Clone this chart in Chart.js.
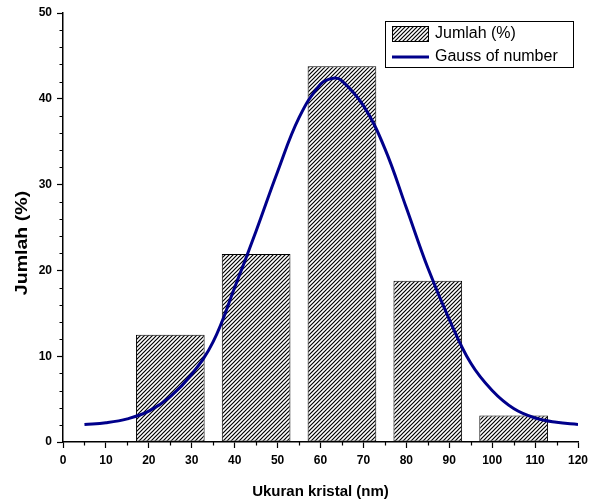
<!DOCTYPE html>
<html>
<head>
<meta charset="utf-8">
<script src="https://cdn.jsdelivr.net/npm/chart.js@4"></script>
<style>
  html, body { margin: 0; padding: 0; background: #fff; }
  #wrap { width: 602px; height: 503px; }
</style>
</head>
<body>
<div id="wrap"><canvas id="chart" width="602" height="503"></canvas></div>
<script>
// histogram bins (centre of each bin, nm) and their share (%)
var binCenters = [25, 45, 65, 85, 105];
var jumlah = [12.5, 21.9, 43.8, 18.8, 3.1];

// gauss fit
var gaussX = [5, 10, 15, 20, 25, 30, 35, 40, 45, 50, 55, 60, 63, 65, 70, 75, 80, 85, 90, 95, 100, 105, 110, 115, 120];
var gaussY = [2.05, 2.25, 2.7, 3.6, 5.3, 7.9, 11.7, 18.0, 24.6, 31.5, 37.8, 41.7, 42.4, 42.1, 39.2, 34.2, 27.3, 20.3, 14.3, 9.2, 6.0, 3.9, 2.8, 2.3, 2.05];

var xTicks = [0, 10, 20, 30, 40, 50, 60, 70, 80, 90, 100, 110, 120];
var yTicks = [0, 10, 20, 30, 40, 50];

var yTitle = 'Jumlah (%)';

var FONT = "'Liberation Sans', Arial, sans-serif";
var NAVY = '#00008b';

function hatch() {
  var c = document.createElement('canvas');
  c.width = 4; c.height = 4;
  var g = c.getContext('2d');
  g.fillStyle = '#fff';
  g.fillRect(0, 0, 4, 4);
  g.strokeStyle = '#000';
  g.lineWidth = 1.2;
  g.beginPath();
  g.moveTo(-1, 5); g.lineTo(5, -1);
  g.moveTo(-1, 1); g.lineTo(1, -1);
  g.moveTo(3, 5); g.lineTo(5, 3);
  g.stroke();
  return g.createPattern(c, 'repeat');
}
var pat = hatch();

// short minor ticks, stretched y title, legend box
var extras = {
  id: 'extras',
  afterDraw: function(chart) {
    var ctx = chart.ctx, xs = chart.scales.x, ys = chart.scales.y;
    var area = chart.chartArea;
    ctx.save();
    ctx.strokeStyle = '#000';
    ctx.lineWidth = 1.2;
    ctx.beginPath();
    for (var v = 5; v < 120; v += 10) {
      var px = Math.round(xs.getPixelForValue(v)) + 0.5;
      ctx.moveTo(px, area.bottom); ctx.lineTo(px, area.bottom + 3.5);
    }
    for (var w = 2; w < 50; w += 2) {
      if (w % 10 === 0) continue;
      var py = Math.round(ys.getPixelForValue(w)) + 0.5;
      ctx.moveTo(area.left, py); ctx.lineTo(area.left - 3.5, py);
    }
    ctx.stroke();

    // y axis title (the original export is a bit stretched)
    ctx.save();
    ctx.translate(22, 243);
    ctx.rotate(-Math.PI / 2);
    ctx.scale(1.15, 1);
    ctx.fillStyle = '#000';
    ctx.font = 'bold 17px ' + FONT;
    ctx.textAlign = 'center';
    ctx.textBaseline = 'middle';
    ctx.fillText(yTitle, 0, 0);
    ctx.restore();

    // legend
    ctx.fillStyle = '#fff';
    ctx.fillRect(385, 21, 189, 47);
    ctx.lineWidth = 1;
    ctx.strokeRect(385.5, 21.5, 188, 46);
    ctx.fillStyle = pat;
    ctx.fillRect(392, 26, 37, 16);
    ctx.strokeRect(392.5, 26.5, 36, 15);
    ctx.strokeStyle = NAVY;
    ctx.lineWidth = 3;
    ctx.beginPath();
    ctx.moveTo(392, 57); ctx.lineTo(429, 57);
    ctx.stroke();
    ctx.fillStyle = '#000';
    ctx.font = '16px ' + FONT;
    ctx.textBaseline = 'middle';
    ctx.fillText(chart.data.datasets[0].label, 435, 34);
    ctx.fillText(chart.data.datasets[1].label, 435, 57);
    ctx.restore();
  }
};

new Chart(document.getElementById('chart').getContext('2d'), {
  type: 'bar',
  data: {
    datasets: [{
      label: 'Jumlah (%)',
      data: binCenters.map(function(x, i) { return { x: x, y: jumlah[i] }; }),
      backgroundColor: pat,
      borderColor: '#000',
      borderWidth: 1,
      borderSkipped: false,
      barPercentage: 1,
      // tick spacing (10) is the ruler here, bins are 16 wide
      categoryPercentage: 1.6,
      order: 1
    }, {
      type: 'line',
      label: 'Gauss of number',
      data: gaussX.map(function(x, i) { return { x: x, y: gaussY[i] }; }),
      borderColor: NAVY,
      borderWidth: 3,
      pointRadius: 0,
      tension: 0.4,
      fill: false,
      order: 0
    }]
  },
  options: {
    responsive: false,
    animation: false,
    layout: { padding: { top: 13, right: 24, left: 0, bottom: 0 } },
    plugins: { legend: { display: false }, tooltip: { enabled: false } },
    scales: {
      x: {
        type: 'linear',
        min: 0, max: 120,
        offset: false,
        afterBuildTicks: function(s) { s.ticks = xTicks.map(function(v) { return { value: v }; }); },
        afterFit: function(s) { s.height = 61; },
        grid: { drawOnChartArea: false, tickLength: 6, tickColor: '#000', tickWidth: 1.2, offset: false },
        border: { color: '#000', width: 1.5 },
        ticks: { color: '#000', padding: 5, maxRotation: 0, font: { family: FONT, size: 12, weight: 'bold' } },
        title: { display: true, text: 'Ukuran kristal (nm)', color: '#000', padding: { top: 0, bottom: 2 }, font: { family: FONT, size: 15, weight: 'bold' } }
      },
      y: {
        min: 0, max: 50,
        afterBuildTicks: function(s) { s.ticks = yTicks.map(function(v) { return { value: v }; }); },
        afterFit: function(s) { s.width = 63; },
        grid: { drawOnChartArea: false, tickLength: 6, tickColor: '#000', tickWidth: 1.2 },
        border: { color: '#000', width: 1.5 },
        ticks: { color: '#000', padding: 5, font: { family: FONT, size: 12, weight: 'bold' } },
        title: { display: false }
      }
    }
  },
  plugins: [extras]
});
</script>
</body>
</html>
